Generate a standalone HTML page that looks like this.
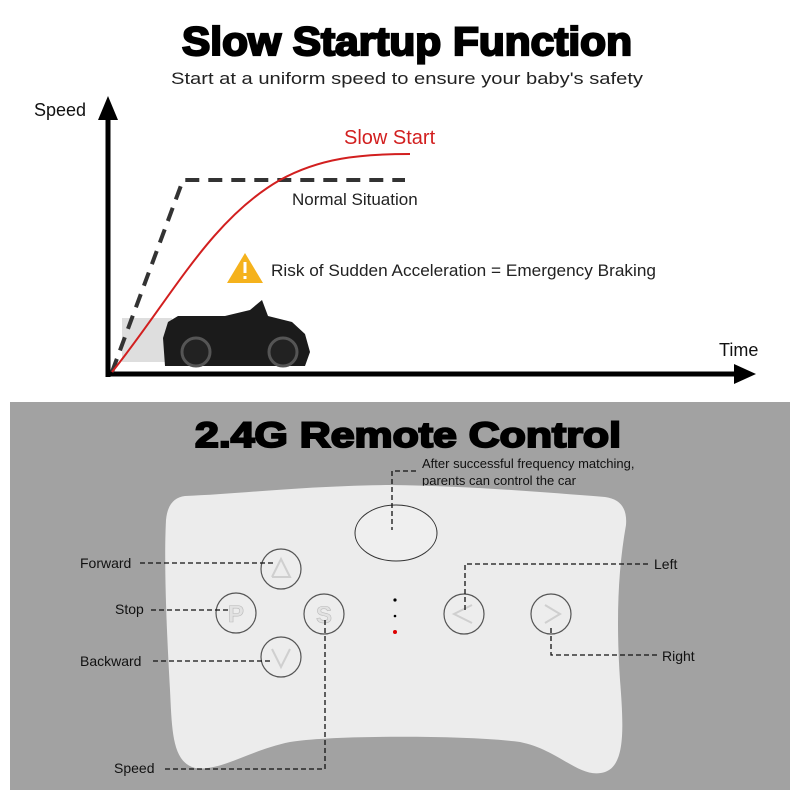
<!DOCTYPE html>
<html><head><meta charset="utf-8"><style>
html,body{margin:0;padding:0;background:#fff;}
svg{display:block;}
text{font-family:"Liberation Sans",sans-serif;}
</style></head><body>
<svg width="800" height="800" viewBox="0 0 800 800" xmlns="http://www.w3.org/2000/svg">
<rect width="800" height="800" fill="#fff"/>
<text x="407" y="55" text-anchor="middle" font-size="40" font-weight="900" textLength="450" lengthAdjust="spacingAndGlyphs" fill="#000" stroke="#000" stroke-width="2.2">Slow Startup Function</text>
<text x="407" y="84" text-anchor="middle" font-size="17" fill="#222" textLength="472" lengthAdjust="spacingAndGlyphs">Start at a uniform speed to ensure your baby's safety</text>
<text x="34" y="116" font-size="18" fill="#111">Speed</text>
<text x="719" y="356" font-size="18" fill="#111">Time</text>
<line x1="108" y1="112" x2="108" y2="377" stroke="#000" stroke-width="5"/>
<polygon points="108,96 98,120 118,120" fill="#000"/>
<line x1="106" y1="374" x2="740" y2="374" stroke="#000" stroke-width="5"/>
<polygon points="756,374 734,364 734,384" fill="#000"/>
<!-- car -->
<rect x="122" y="318" width="50" height="44" fill="#c8c8c8" opacity="0.6"/>
<path d="M163,338 L168,322 L178,316 L225,316 L250,310 L262,300 L268,316 L292,322 L305,334 L310,352 L305,366 L165,366 Z" fill="#1b1b1b"/>
<circle cx="196" cy="352" r="14" fill="#222" stroke="#555" stroke-width="3"/>
<circle cx="283" cy="352" r="14" fill="#222" stroke="#555" stroke-width="3"/>
<polyline points="112,372 183,180 405,180" fill="none" stroke="#333" stroke-width="4" stroke-dasharray="14,9"/>
<path d="M112,372 C170,300 210,220 280,180 C320,158 360,154 410,154" fill="none" stroke="#d21f1f" stroke-width="2"/>
<text x="344" y="144" font-size="20" fill="#d21f1f">Slow Start</text>
<text x="292" y="205" font-size="17" fill="#222">Normal Situation</text>
<polygon points="245,253 227,283 263,283" fill="#f5b21c"/>
<rect x="243.5" y="262" width="3" height="11" fill="#fff"/>
<rect x="243.5" y="276" width="3" height="3" fill="#fff"/>
<text x="271" y="276" font-size="16.5" fill="#222" textLength="385" lengthAdjust="spacingAndGlyphs">Risk of Sudden Acceleration = Emergency Braking</text>
<!-- gray panel -->
<rect x="10" y="402" width="780" height="388" fill="#a2a2a2"/>
<text x="408" y="447" text-anchor="middle" font-size="35" font-weight="900" fill="#000" stroke="#000" stroke-width="2" textLength="426" lengthAdjust="spacingAndGlyphs">2.4G Remote Control</text>
<text x="422" y="468" font-size="13" fill="#111">After successful frequency matching,</text>
<text x="422" y="485" font-size="13" fill="#111">parents can control the car</text>
<!-- remote -->
<path d="M185,496 C240,494 300,486 390,485 C470,486 540,492 605,497 Q628,500 626,525 C618,570 616,620 620,680 C624,730 625,765 605,772 C580,780 560,750 520,742 C470,735 330,735 290,742 C250,750 220,772 195,768 C172,762 172,730 170,690 C166,620 164,560 166,520 Q168,498 185,496 Z" fill="#ececec"/>
<ellipse cx="396" cy="533" rx="41" ry="28" fill="#efefef" stroke="#333" stroke-width="1"/>
<g fill="#ededed" stroke="#555" stroke-width="1.2">
<circle cx="281" cy="569" r="20"/>
<circle cx="236" cy="613" r="20"/>
<circle cx="324" cy="614" r="20"/>
<circle cx="281" cy="657" r="20"/>
<circle cx="464" cy="614" r="20"/>
<circle cx="551" cy="614" r="20"/>
</g>
<g fill="none" stroke="#cfcfcf" stroke-width="2">
<polyline points="272,577 281,559 290,577 272,577"/>
<polyline points="272,649 281,667 290,649"/>
<polyline points="472,605 454,614 472,623"/>
<polyline points="545,605 560,614 545,623"/>
</g>
<g font-size="24" fill="#e2e2e2" text-anchor="middle" font-weight="bold" stroke="#bbb" stroke-width="0.6">
<text x="236" y="622">P</text><text x="324" y="623">S</text>
</g>
<circle cx="395" cy="600" r="1.6" fill="#000"/>
<circle cx="395" cy="616" r="1.3" fill="#000"/>
<circle cx="395" cy="632" r="2" fill="#d00"/>
<g fill="none" stroke="#111" stroke-width="1.3" stroke-dasharray="5,3">
<polyline points="416,471 392,471 392,530"/>
<line x1="140" y1="563" x2="273" y2="563"/>
<line x1="151" y1="610" x2="228" y2="610"/>
<line x1="153" y1="661" x2="271" y2="661"/>
<polyline points="165,769 325,769 325,620"/>
<polyline points="465,610 465,564 650,564"/>
<polyline points="551,628 551,655 660,655"/>
</g>
<g font-size="14" fill="#111">
<text x="80" y="568">Forward</text>
<text x="115" y="614">Stop</text>
<text x="80" y="666">Backward</text>
<text x="114" y="773">Speed</text>
<text x="654" y="569">Left</text>
<text x="662" y="661">Right</text>
</g>
</svg>
</body></html>
